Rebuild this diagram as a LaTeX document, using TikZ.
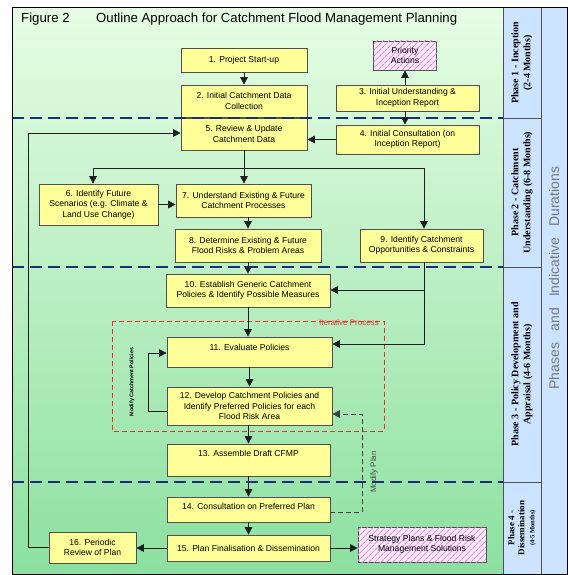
\documentclass[tikz,border=0pt]{standalone}
\usepackage{fontspec}
\setmainfont{Liberation Sans}
\newfontfamily\tnr{Liberation Serif}
\usetikzlibrary{arrows.meta,patterns.meta}

\definecolor{bgtop}{RGB}{230,253,228}
\definecolor{bgbot}{RGB}{140,224,160}
\definecolor{boxy}{RGB}{255,255,153}
\definecolor{boxline}{RGB}{80,80,80}
\definecolor{phaseblue}{RGB}{204,228,255}
\definecolor{navy}{RGB}{25,45,120}
\definecolor{itred}{RGB}{225,50,50}
\definecolor{hatch}{RGB}{225,140,225}
\definecolor{hatchbg}{RGB}{252,234,252}
\definecolor{conn}{RGB}{30,30,30}
\definecolor{durgray}{RGB}{120,120,120}

\begin{document}
\begin{tikzpicture}[x=1pt,y=-1pt,
  box/.style 2 args={draw=boxline, line width=0.7pt, fill=boxy, minimum width=#1, minimum height=#2,
    inner sep=0pt, align=center, font=\fontsize{8.6}{10.5}\selectfont},
  hatchbox/.style 2 args={draw=boxline, line width=0.7pt, fill=hatchbg, minimum width=#1, minimum height=#2,
    inner sep=0pt, align=center, font=\fontsize{8.6}{10.5}\selectfont,
    postaction={pattern={Lines[angle=45,distance=4pt,line width=1.2pt]}, pattern color=hatch}},
  arr/.style={draw=conn, line width=0.8pt, -{Triangle[length=7.5pt,width=7.5pt]}},
  phaseline/.style={draw=navy, line width=1.8pt, dash pattern=on 12pt off 6pt},
  phasetxt/.style={font=\tnr\bfseries\fontsize{10}{12}\selectfont, align=center, inner sep=0pt},
]
\useasboundingbox (0,0) rectangle (567,575);

% backgrounds
\shade[top color=bgtop, bottom color=bgbot] (12,8) rectangle (503,574);
\fill[phaseblue] (503,8) rectangle (567,574);
\draw[boxline, line width=0.8pt] (503,8) -- (503,574) (541,8) -- (541,574);
\draw[boxline, line width=0.8pt] (503,118) -- (541,118) (503,267) -- (541,267) (503,482) -- (541,482);
\draw[black, line width=1pt] (12,8) rectangle (567,574);

% title
\node[anchor=base west, inner sep=0pt, font=\fontsize{13.2}{15}\selectfont] (fig) at (21,23) {Figure 2};
\node[anchor=base west, inner sep=0pt, font=\fontsize{13.2}{15}\selectfont] (title) at (96,23) {Outline Approach for Catchment Flood Management Planning};

% iterative process frame
\draw[itred, line width=0.7pt, dash pattern=on 5pt off 3pt] (112,321) rectangle (384,431);
\node[anchor=east, inner sep=0pt, text=itred, font=\fontsize{8}{9}\selectfont] (itl) at (379,323) {Iterative Process};

% boxes
\node[box={126pt}{24pt}] (n1) at (244,60) {1. Project Start-up};
\node[box={126pt}{32pt}] (n2) at (244,101) {2. Initial Catchment Data\\Collection};
\node[box={143pt}{26pt}] (n3) at (407.5,98) {3. Initial Understanding \&\\Inception Report};
\node[hatchbox={63pt}{29pt}] (pa) at (405,55.5) {Priority\\Actions};
\node[box={143pt}{29pt}] (n4) at (407.5,139.5) {4. Initial Consultation (on\\Inception Report)};
\node[box={126pt}{32pt}] (n5) at (244,134) {5. Review \& Update\\Catchment Data};
\node[box={119pt}{41pt}] (n6) at (98.5,204.5) {6. Identify Future\\Scenarios (e.g. Climate \&\\Land Use Change)};
\node[box={135pt}{33pt}] (n7) at (243.5,200.5) {7. Understand Existing \& Future\\Catchment Processes};
\node[box={146pt}{33pt}] (n8) at (248,245.5) {8. Determine Existing \& Future\\Flood Risks \& Problem Areas};
\node[box={123pt}{33pt}] (n9) at (421.5,245.5) {9. Identify Catchment\\Opportunities \& Constraints};
\node[box={164pt}{33pt}] (n10) at (248,290.5) {10. Establish Generic Catchment\\Policies \& Identify Possible Measures};
\node[box={165pt}{30pt}, text depth=10pt] (n11) at (249.5,352) {11. Evaluate Policies};
\node[box={165pt}{38pt}] (n12) at (249.5,406) {12. Develop Catchment Policies and\\Identify Preferred Policies for each\\Flood Risk Area};
\node[box={163pt}{32pt}, text depth=14pt] (n13) at (248.5,460) {13. Assemble Draft CFMP};
\node[box={163pt}{25pt}, text depth=7pt] (n14) at (248.5,509.5) {14. Consultation on Preferred Plan};
\node[box={163pt}{26pt}] (n15) at (248.5,548) {15. Plan Finalisation \& Dissemination};
\node[box={87pt}{31pt}] (n16) at (92.5,547.5) {16. Periodic\\Review of Plan};
\node[hatchbox={128pt}{35pt}] (sp) at (422,544.5) {Strategy Plans \& Flood Risk\\Management Solutions};

% helper coordinates
\coordinate (bL) at (93,168);
\coordinate (bR) at (424,168);
\coordinate (r10) at (424,290);
\coordinate (r11) at (424,344);
\coordinate (l1) at (148,411);
\coordinate (l2) at (148,353);
\coordinate (d1) at (362,512);
\coordinate (d2) at (362,414);
\coordinate (lt) at (28,133);

% connectors
\draw[arr] (n1) -- (n2);
\draw[arr] (pa.south |- n3.north) -- (pa.south);
\draw[arr] (pa.south |- n3.south) -- (pa.south |- n4.north);
\draw[arr] (n4.west) -- (n4.west -| n5.east);
\draw[arr] (n5.south) -- (n5.south |- n7.north);
\draw[arr] (bL -| n5) -- (bL) -- (bL |- n6.north);
\draw[arr] (bL -| n5) -- (bR) -- (bR |- n9.north);
\draw[arr] (n6.east) -- (n6.east -| n7.west);
\draw[arr] (n7.south -| n8) -- (n8.north);
\draw[arr] (n8) -- (n10);
\draw[arr] (bR |- n9.south) -- (r11) -- (r11 -| n11.east);
\draw[arr] (r10) -- (r10 -| n10.east);
\draw[arr] (n10.south) -- (n10.south |- n11.north);
\draw[arr] (n11) -- (n12);
\draw[arr] (l1 -| n12.west) -- (l1) -- (l2) -- (l2 -| n11.west);
\draw[arr] (n12.south -| n13) -- (n13.north);
\draw[arr] (n13) -- (n14);
\draw[arr, draw=black!75, dash pattern=on 5pt off 3pt] (d1 -| n14.east) -- (d1) -- (d2) -- (d2 -| n12.east);
\draw[arr] (n14) -- (n15);
\draw[arr] (n15.west) -- (n15.west -| n16.east);
\draw[arr] (n15.east) -- (n15.east -| sp.west);
\draw[arr] (n16.west) -- (n16.west -| lt) -- (lt) -- (lt -| n5.west);

% connector labels
\node[rotate=90, inner sep=0pt, font=\bfseries\fontsize{5.4}{6}\selectfont] (mcp) at (132,382) {Modify Catchment Policies};
\node[rotate=90, inner sep=0pt, text=black!70, font=\fontsize{8}{9}\selectfont] (mpl) at (374,472) {Modify Plan};

% phase separators
\draw[phaseline] (12,118) -- (503,118);
\draw[phaseline] (12,267) -- (503,267);
\draw[phaseline] (12,482) -- (503,482);

% phase texts
\node[phasetxt, rotate=90] (p1) at (522,63) {Phase 1 - Inception\\(2-4 Months)};
\node[phasetxt, rotate=90] (p2) at (522,192.5) {Phase 2 - Catchment\\Understanding (6-8 Months)};
\node[phasetxt, rotate=90] (p3) at (522,374.5) {Phase 3 - Policy Development and\\Appraisal (4-6 Months)};
\node[phasetxt, rotate=90, font=\tnr\bfseries\fontsize{9}{10}\selectfont] (p4) at (522,528) {Phase 4 -\\Dissemination\\{\fontsize{6.5}{8}\selectfont (4-5 Months)}};

% durations
\node[rotate=90, inner sep=0pt, text=durgray, font=\fontsize{14}{16}\selectfont] (dur) at (554,278)
  {Phases\hspace{0.8em}and\hspace{0.8em}Indicative\hspace{0.8em}Durations};
\end{tikzpicture}
\end{document}
